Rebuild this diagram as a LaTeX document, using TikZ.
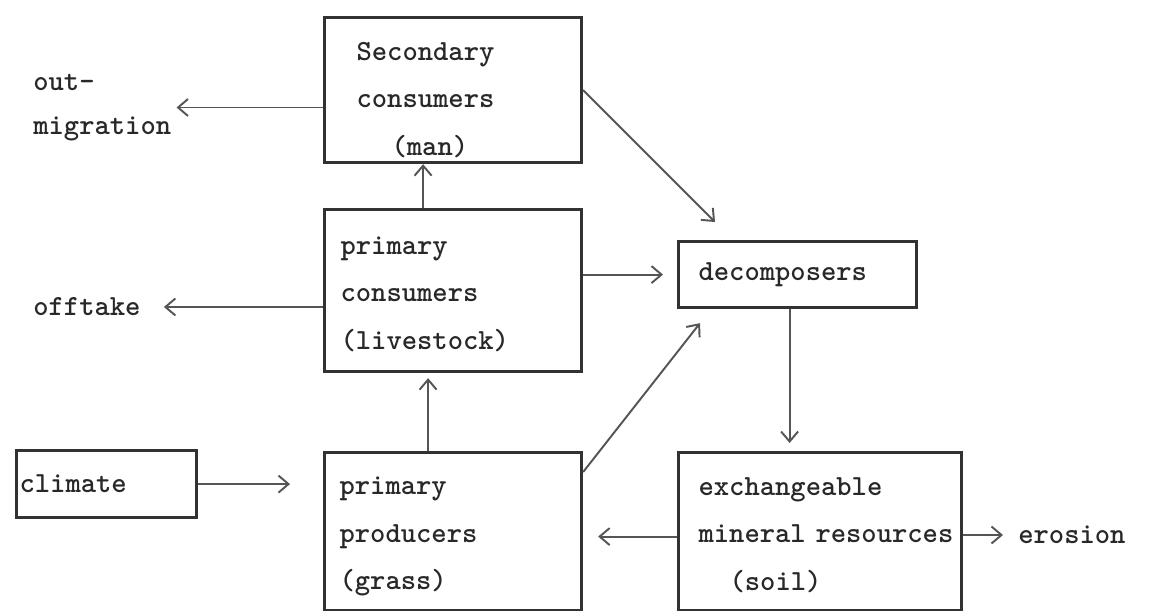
\documentclass[tikz,border=0pt]{standalone}
\usepackage{fontspec}
\definecolor{boxgray}{RGB}{50, 50, 50}
\definecolor{arrowgray}{RGB}{85, 85, 85}
\definecolor{inkgray}{RGB}{40, 40, 40}
\usepackage{tikz}
\usetikzlibrary{arrows.meta, positioning, calc}

\begin{document}
\begin{tikzpicture}[
        box/.style={draw=boxgray, line width=1.8pt, anchor=north west, align=left, inner ysep=0pt, text=inkgray, font=\ttfamily\bfseries\fontsize{16.6}{27}\selectfont},
        outside/.style={anchor=west, align=left, inner sep=0.1cm, text=inkgray, font=\ttfamily\bfseries\fontsize{16.6}{25}\selectfont},
        flow/.style={draw=arrowgray, line width=1.1pt, -{Straight Barb[length=2mm, width=3.4mm]}},
      ]
      \useasboundingbox (0, 0) rectangle (23.46, -12.22);
      % boxes
      \node[box, minimum width=5.14cm, minimum height=2.9cm, inner xsep=0.64cm, text width=3.86cm] (sec) at (6.46, -0.32) {\rule{0pt}{0.75cm}Secondary\\consumers\\\hspace*{0.7cm}(man)};
      \node[box, minimum width=5.14cm, minimum height=3.24cm, inner xsep=0.32cm, text width=4.5cm] (pricons) at (6.46, -4.16) {\rule{0pt}{0.5cm}primary\\consumers\\(livestock)};
      \node[box, minimum width=4.76cm, minimum height=1.32cm, inner xsep=0.4cm, text width=3.96cm] (decomp) at (13.54, -4.8) {decomposers};
      \node[box, minimum width=3.6cm, minimum height=1.34cm, inner xsep=0.06cm, text width=3.48cm] (climate) at (0.3, -8.98) {climate};
      \node[box, minimum width=5.14cm, minimum height=3.16cm, inner xsep=0.3cm, text width=4.54cm] (priprod) at (6.46, -9.02) {\rule{0pt}{0.55cm}primary\\producers\\(grass)};
      \node[box, minimum width=5.66cm, minimum height=3.16cm, inner xsep=0.4cm, text width=4.86cm] (soil) at (13.54, -9.02) {\rule{0pt}{0.5cm}exchangeable\\\mbox{mineral resources}\\\hspace*{0.62cm}(soil)};
      % outside labels
      \node[outside] (outmig) at (0.56, -2.15) {out-\\migration};
      \node[outside] (offtake) at (0.56, -6.14) {offtake};
      \node[outside] (erosion) at (20.26, -10.7) {erosion};
      % flows
      \draw[flow] (sec.west |- outmig.east) -- (outmig.east);
      \draw[flow] (pricons.west |- offtake.east) -- ([xshift=0.36cm]offtake.east);
      \draw[flow] ([xshift=-0.6cm]pricons.north) -- ([xshift=-0.6cm]pricons.north |- sec.south);
      \draw[flow] ([xshift=-0.5cm]priprod.north) -- ([xshift=-0.5cm,yshift=-0.1cm]priprod.north |- pricons.south);
      \draw[flow] (pricons.east |- decomp.west) -- ([xshift=-0.28cm]decomp.west);
      \draw[flow] (sec.east) -- ([shift={(0.76,0.36)}]decomp.north west);
      \draw[flow] ([yshift=-0.42cm]priprod.north east) -- ([shift={(0.46,-0.28)}]decomp.south west);
      \draw[flow] ([xshift=-0.16cm]decomp.south) -- ([xshift=-0.16cm,yshift=0.16cm]decomp.south |- soil.north);
      \draw[flow] (climate.east) -- ([xshift=-0.66cm]climate.east -| priprod.west);
      \draw[flow] ([yshift=-0.1cm]soil.west) -- ([xshift=0.3cm,yshift=-0.1cm]soil.west -| priprod.east);
      \draw[flow] (soil.east |- erosion.west) -- ([xshift=-0.2cm]erosion.west);
      \end{tikzpicture}
\end{document}
